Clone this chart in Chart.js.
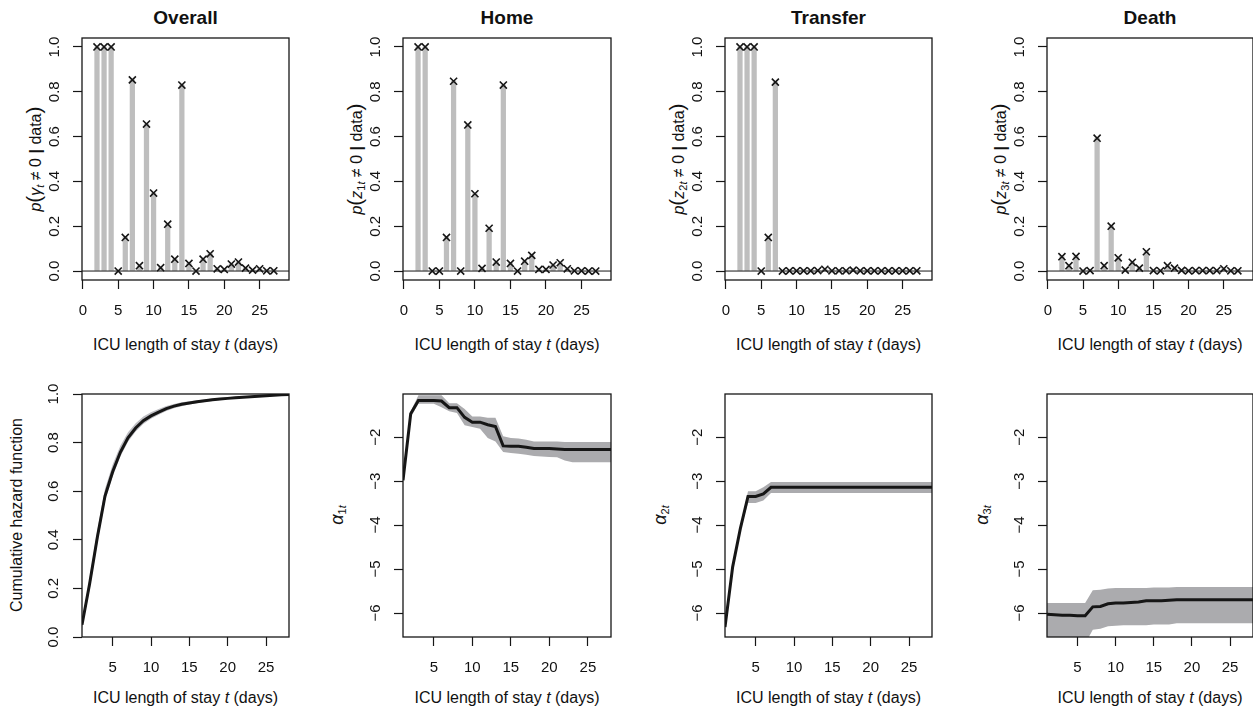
<!DOCTYPE html>
<html lang="en">
<head>
<meta charset="UTF-8">
<title>ICU length of stay - inclusion probabilities and hazards</title>
<script src="https://cdn.jsdelivr.net/npm/chart.js"></script>
<style>
  body { margin: 0; width: 1253px; height: 712px; overflow: hidden; background: #fff; position: relative;
         font-family: "Liberation Sans", Arial, sans-serif; color: #111; }
  canvas { position: absolute; }
  .lbl { position: absolute; white-space: nowrap; transform: translate(-50%, -50%); font-size: 16px; line-height: 1; }
  .rot { transform: translate(-50%, -50%) rotate(-90deg); }
  .ttl { font-weight: bold; font-size: 19px; }
  .bp { font-size: 21px; }
  .al { font-size: 18px; }
  sub { font-size: 11px; vertical-align: -3px; }
</style>
</head>
<body>

<div class="lbl ttl" style="left:185.5px; top:17px">Overall</div>
<div class="lbl ttl" style="left:507px; top:17px">Home</div>
<div class="lbl ttl" style="left:828.5px; top:17px">Transfer</div>
<div class="lbl ttl" style="left:1150px; top:17px">Death</div>

<div class="lbl" style="left:185.5px; top:345px">ICU length of stay <i>t</i> (days)</div>
<div class="lbl" style="left:507px; top:345px">ICU length of stay <i>t</i> (days)</div>
<div class="lbl" style="left:828.5px; top:345px">ICU length of stay <i>t</i> (days)</div>
<div class="lbl" style="left:1150px; top:345px">ICU length of stay <i>t</i> (days)</div>
<div class="lbl" style="left:185.5px; top:698px">ICU length of stay <i>t</i> (days)</div>
<div class="lbl" style="left:507px; top:698px">ICU length of stay <i>t</i> (days)</div>
<div class="lbl" style="left:828.5px; top:698px">ICU length of stay <i>t</i> (days)</div>
<div class="lbl" style="left:1150px; top:698px">ICU length of stay <i>t</i> (days)</div>

<div class="lbl rot" style="left:34px; top:159px"><i>p</i><span class="bp">(</span><i>γ</i><sub><i>t</i></sub> ≠ 0 <b>|</b> data<span class="bp">)</span></div>
<div class="lbl rot" style="left:355px; top:159px"><i>p</i><span class="bp">(</span><i>z</i><sub>1<i>t</i></sub> ≠ 0 <b>|</b> data<span class="bp">)</span></div>
<div class="lbl rot" style="left:677px; top:159px"><i>p</i><span class="bp">(</span><i>z</i><sub>2<i>t</i></sub> ≠ 0 <b>|</b> data<span class="bp">)</span></div>
<div class="lbl rot" style="left:999px; top:159px"><i>p</i><span class="bp">(</span><i>z</i><sub>3<i>t</i></sub> ≠ 0 <b>|</b> data<span class="bp">)</span></div>
<div class="lbl rot" style="left:17px; top:515px">Cumulative hazard function</div>
<div class="lbl rot" style="left:338px; top:515px"><i class="al">α</i><sub>1<i>t</i></sub></div>
<div class="lbl rot" style="left:661px; top:515px"><i class="al">α</i><sub>2<i>t</i></sub></div>
<div class="lbl rot" style="left:983px; top:515px"><i class="al">α</i><sub>3<i>t</i></sub></div>

<script>
// ------------------------------------------------
// Top row: posterior inclusion probabilities per day (t = 2..27)
const days = [2, 3, 4, 5, 6, 7, 8, 9, 10, 11, 12, 13, 14, 15, 16, 17, 18, 19, 20, 21, 22, 23, 24, 25, 26, 27];
const probOverall  = [1.0, 1.0, 1.0, 0.0, 0.15, 0.853, 0.024, 0.656, 0.348, 0.015, 0.209, 0.053, 0.83, 0.034, 0.0, 0.053, 0.077, 0.01, 0.007, 0.031, 0.04, 0.013, 0.004, 0.01, 0.001, 0.001];
const probHome     = [1.0, 1.0, 0.0, 0.0, 0.15, 0.847, 0.0, 0.652, 0.345, 0.012, 0.191, 0.04, 0.83, 0.034, 0.0, 0.044, 0.07, 0.007, 0.007, 0.027, 0.037, 0.01, 0.001, 0.001, 0.0, 0.0];
const probTransfer = [1.0, 1.0, 1.0, 0.0, 0.15, 0.843, 0.0, 0.001, 0.001, 0.001, 0.001, 0.002, 0.008, 0.001, 0.001, 0.001, 0.004, 0.001, 0.001, 0.001, 0.001, 0.001, 0.001, 0.001, 0.001, 0.001];
const probDeath    = [0.064, 0.024, 0.065, 0.0, 0.002, 0.593, 0.024, 0.2, 0.059, 0.004, 0.039, 0.013, 0.086, 0.002, 0.001, 0.024, 0.013, 0.003, 0.001, 0.002, 0.002, 0.002, 0.002, 0.01, 0.001, 0.001];

// ------------------------------------------------
// Bottom row: curves with credible bands (t = 1..28)
const tCurve = [1, 2, 3, 4, 5, 6, 7, 8, 9, 10, 11, 12, 13, 14, 15, 16, 17, 18, 19, 20, 21, 22, 23, 24, 25, 26, 27, 28];
const cumHaz   = [0.05, 0.22, 0.41, 0.58, 0.68, 0.76, 0.82, 0.86, 0.89, 0.91, 0.925, 0.94, 0.95, 0.958, 0.963, 0.968, 0.972, 0.976, 0.979, 0.982, 0.985, 0.987, 0.989, 0.991, 0.993, 0.995, 0.997, 0.998];
const cumHazLo = [0.035, 0.195, 0.385, 0.56, 0.66, 0.742, 0.803, 0.846, 0.877, 0.898, 0.915, 0.93, 0.941, 0.95, 0.957, 0.962, 0.967, 0.971, 0.975, 0.978, 0.981, 0.984, 0.986, 0.988, 0.99, 0.992, 0.994, 0.995];
const cumHazHi = [0.065, 0.245, 0.44, 0.61, 0.71, 0.787, 0.843, 0.88, 0.907, 0.925, 0.938, 0.951, 0.959, 0.966, 0.97, 0.974, 0.977, 0.981, 0.984, 0.986, 0.989, 0.991, 0.992, 0.994, 0.996, 0.997, 0.999, 1.0];

const alphaHome   = [-2.98, -1.47, -1.17, -1.17, -1.17, -1.18, -1.33, -1.33, -1.55, -1.66, -1.66, -1.72, -1.76, -2.2, -2.21, -2.21, -2.23, -2.26, -2.26, -2.26, -2.27, -2.28, -2.28, -2.28, -2.28, -2.28, -2.28, -2.28];
const alphaHomeHi = [-2.93, -1.41, -1.05, -1.05, -1.05, -1.05, -1.23, -1.23, -1.36, -1.53, -1.53, -1.56, -1.56, -1.98, -2.02, -2.03, -2.06, -2.1, -2.1, -2.1, -2.1, -2.11, -2.11, -2.11, -2.11, -2.11, -2.11, -2.11];
const alphaHomeLo = [-3.03, -1.55, -1.24, -1.24, -1.24, -1.32, -1.41, -1.45, -1.73, -1.77, -1.81, -2.02, -2.1, -2.34, -2.36, -2.38, -2.4, -2.43, -2.44, -2.45, -2.46, -2.53, -2.57, -2.57, -2.57, -2.57, -2.57, -2.57];

const alphaTransfer   = [-6.32, -4.95, -4.08, -3.35, -3.35, -3.29, -3.14, -3.14, -3.14, -3.14, -3.14, -3.14, -3.14, -3.14, -3.14, -3.14, -3.14, -3.14, -3.14, -3.14, -3.14, -3.14, -3.14, -3.14, -3.14, -3.14, -3.14, -3.14];
const alphaTransferHi = [-6.28, -4.9, -4.03, -3.23, -3.23, -3.14, -3.02, -3.02, -3.02, -3.02, -3.02, -3.02, -3.02, -3.02, -3.02, -3.02, -3.02, -3.02, -3.02, -3.02, -3.02, -3.02, -3.02, -3.02, -3.02, -3.02, -3.02, -3.02];
const alphaTransferLo = [-6.36, -5.0, -4.13, -3.5, -3.5, -3.44, -3.27, -3.27, -3.27, -3.27, -3.27, -3.27, -3.27, -3.27, -3.27, -3.27, -3.27, -3.27, -3.27, -3.27, -3.27, -3.27, -3.27, -3.27, -3.27, -3.27, -3.27, -3.27];

const alphaDeath   = [-6.03, -6.04, -6.05, -6.05, -6.06, -6.06, -5.86, -5.85, -5.79, -5.77, -5.77, -5.76, -5.75, -5.72, -5.72, -5.72, -5.71, -5.7, -5.7, -5.7, -5.7, -5.7, -5.7, -5.7, -5.7, -5.7, -5.7, -5.7];
const alphaDeathHi = [-5.77, -5.77, -5.77, -5.77, -5.77, -5.77, -5.48, -5.47, -5.44, -5.43, -5.43, -5.43, -5.43, -5.43, -5.42, -5.42, -5.42, -5.41, -5.41, -5.41, -5.41, -5.41, -5.41, -5.41, -5.41, -5.41, -5.41, -5.41];
const alphaDeathLo = [-6.7, -6.7, -6.7, -6.7, -6.7, -6.7, -6.38, -6.36, -6.3, -6.29, -6.28, -6.28, -6.28, -6.28, -6.26, -6.26, -6.26, -6.23, -6.23, -6.23, -6.23, -6.23, -6.23, -6.23, -6.23, -6.23, -6.23, -6.23];

// tick labels
const xTicksTop    = [0, 5, 10, 15, 20, 25];
const xTicksBottom = [5, 10, 15, 20, 25];
const yTicksProb   = [0, 0.2, 0.4, 0.6, 0.8, 1.0];
const yTicksAlpha  = [-2, -3, -4, -5, -6];

// ------------------------------------------------
Chart.defaults.font.family = '"Liberation Sans", Arial, sans-serif';
Chart.defaults.font.size = 15;
Chart.defaults.color = '#111';
Chart.defaults.animation = false;

const ink = '#161616';
const boxLefts = [82, 403, 725, 1047];
const boxWidths = [207, 208, 207, 206];

// draws the box round the plotting region
const framePlugin = {
    id: 'frame',
    afterDraw(chart) {
        const a = chart.chartArea, ctx = chart.ctx;
        ctx.save();
        ctx.strokeStyle = ink;
        ctx.lineWidth = 1.3;
        ctx.strokeRect(a.left, a.top, a.right - a.left, a.bottom - a.top);
        ctx.restore();
    }
};

// horizontal reference line at y = 0 (abline)
const zeroLinePlugin = {
    id: 'zeroLine',
    afterDatasetsDraw(chart) {
        const a = chart.chartArea, ctx = chart.ctx;
        const y = chart.scales.y.getPixelForValue(0);
        ctx.save();
        ctx.strokeStyle = ink;
        ctx.lineWidth = 1;
        ctx.beginPath();
        ctx.moveTo(a.left, y);
        ctx.lineTo(a.right, y);
        ctx.stroke();
        ctx.restore();
    }
};

function makeCanvas(left, top, width, height) {
    const c = document.createElement('canvas');
    c.width = width;
    c.height = height;
    c.style.left = left + 'px';
    c.style.top = top + 'px';
    c.style.width = width + 'px';
    c.style.height = height + 'px';
    document.body.appendChild(c);
    return c;
}

function scalesFor(o) {
    const grid = { drawOnChartArea: false, drawTicks: true, tickLength: 9, tickColor: ink, tickWidth: 1.2, offset: false };
    return {
        x: {
            type: 'linear', min: o.xMin, max: o.xMax, offset: false,
            afterBuildTicks: s => { s.ticks = o.xTicks.map(v => ({ value: v })); },
            afterFit: s => { s.height = o.xHeight; },
            border: { display: false }, grid: grid,
            ticks: { autoSkip: false, maxRotation: 0, padding: 13, callback: v => String(v) }
        },
        y: {
            type: 'linear', min: o.yMin, max: o.yMax,
            afterBuildTicks: s => { s.ticks = o.yTicks.map(v => ({ value: v })); },
            afterFit: s => { s.width = 80; },
            border: { display: false }, grid: grid,
            ticks: { autoSkip: false, minRotation: 90, maxRotation: 90, crossAlign: 'center', padding: o.yPad, callback: o.yFmt }
        }
    };
}

const baseOptions = {
    responsive: false,
    maintainAspectRatio: false,
    plugins: { legend: { display: false }, tooltip: { enabled: false }, title: { display: false } },
    events: []
};

// ------------------------------------------------
// top row: bar ("type h") plot with crosses
function createProbChart(i, values) {
    const pts = days.map((d, k) => ({ x: d, y: values[k] }));
    const canvas = makeCanvas(boxLefts[i] - 80, 0, 80 + boxWidths[i] + 10, 360);
    new Chart(canvas, {
        type: 'bar',
        data: {
            datasets: [
                { type: 'scatter', data: pts, pointStyle: 'crossRot', pointRadius: 5, borderColor: ink,
                  backgroundColor: ink, borderWidth: 1.6, order: 0 },
                { type: 'bar', data: pts, backgroundColor: '#BEBEBE', barThickness: 4.6, order: 1 }
            ]
        },
        options: Object.assign({}, baseOptions, {
            layout: { padding: { left: 0, top: 38, right: 10, bottom: 0 } },
            scales: scalesFor({ xMin: -0.12, xMax: 29.15, xTicks: xTicksTop, xHeight: 80,
                                yMin: -0.04, yMax: 1.04, yTicks: yTicksProb, yPad: 8, yFmt: v => v.toFixed(1) })
        }),
        plugins: [zeroLinePlugin, framePlugin]
    });
}

// bottom row: line with shaded band
function createBandChart(i, mid, lo, hi, bandColor, yRange, yTicks, yFmt, yPad) {
    const toPts = arr => tCurve.map((t, k) => ({ x: t, y: arr[k] }));
    const canvas = makeCanvas(boxLefts[i] - 80, 360, 80 + boxWidths[i] + 10, 352);
    new Chart(canvas, {
        type: 'line',
        data: {
            datasets: [
                { data: toPts(lo), borderColor: 'rgba(0,0,0,0)', borderWidth: 0, pointRadius: 0, fill: false, order: 2, clip: 0 },
                { data: toPts(hi), borderColor: 'rgba(0,0,0,0)', borderWidth: 0, pointRadius: 0, fill: '-1',
                  backgroundColor: bandColor, order: 1, clip: 0 },
                { data: toPts(mid), borderColor: ink, borderWidth: 3, pointRadius: 0, fill: false, tension: 0,
                  order: 0, clip: 0 }
            ]
        },
        options: Object.assign({}, baseOptions, {
            layout: { padding: { left: 0, top: 34, right: 10, bottom: 0 } },
            scales: scalesFor({ xMin: 1, xMax: 28, xTicks: xTicksBottom, xHeight: 75,
                                yMin: yRange[0], yMax: yRange[1], yTicks: yTicks, yPad: yPad, yFmt: yFmt })
        }),
        plugins: [framePlugin]
    });
}

window.onload = () => {
    createProbChart(0, probOverall);
    createProbChart(1, probHome);
    createProbChart(2, probTransfer);
    createProbChart(3, probDeath);

    const fmtAlpha = v => '\u2212' + Math.abs(v);
    createBandChart(0, cumHaz, cumHazLo, cumHazHi, '#BDBDC2', [0, 1], yTicksProb, v => v.toFixed(1), 9);
    createBandChart(1, alphaHome, alphaHomeLo, alphaHomeHi, '#ABABAE', [-6.545, -1.02], yTicksAlpha, fmtAlpha, 10);
    createBandChart(2, alphaTransfer, alphaTransferLo, alphaTransferHi, '#ABABAE', [-6.545, -1.02], yTicksAlpha, fmtAlpha, 10);
    createBandChart(3, alphaDeath, alphaDeathLo, alphaDeathHi, '#ABABAE', [-6.545, -1.02], yTicksAlpha, fmtAlpha, 10);
};
</script>
</body>
</html>
